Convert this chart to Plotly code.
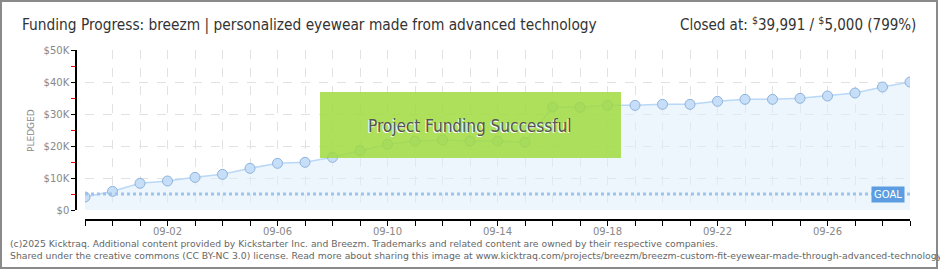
import plotly.graph_objects as go

dates = ["2025-08-30", "2025-08-31", "2025-09-01", "2025-09-02", "2025-09-03", "2025-09-04",
         "2025-09-05", "2025-09-06", "2025-09-07", "2025-09-08", "2025-09-09", "2025-09-10",
         "2025-09-11", "2025-09-12", "2025-09-13", "2025-09-14", "2025-09-15", "2025-09-16",
         "2025-09-17", "2025-09-18", "2025-09-19", "2025-09-20", "2025-09-21", "2025-09-22",
         "2025-09-23", "2025-09-24", "2025-09-25", "2025-09-26", "2025-09-27", "2025-09-28",
         "2025-09-29"]
pledged = [4060, 5830, 8330, 9060, 10200, 11140, 13020, 14580, 14900, 16460, 18540, 20520,
           21560, 21875, 21560, 21560, 21150, 32190, 32080, 32700, 32700, 33020, 33020, 33960,
           34580, 34580, 34900, 35625, 36560, 38440, 39991]
goal = 5000
goal_line = [goal] * len(dates)

y_tickvals = [0, 10000, 20000, 30000, 40000, 50000]
y_ticktext = ["$0", "$10K", "$20K", "$30K", "$40K", "$50K"]

title_text = "Funding Progress: breezm | personalized eyewear made from advanced technology"
closed_text = "Closed at: <sup>$</sup>39,991 / <sup>$</sup>5,000 (799%)"
footer1 = ("(c)2025 Kicktraq. Additional content provided by Kickstarter Inc. and Breezm. "
           "Trademarks and related content are owned by their respective companies.")
footer2 = ("Shared under the creative commons (CC BY-NC 3.0) license. Read more about sharing this image at "
           "www.kicktraq.com/projects/breezm/breezm-custom-fit-eyewear-made-through-advanced-technology")

W, H = 940, 270
ML, MR, MT, MB = 76, 30, 50, 50
PW, PH = W - ML - MR, H - MT - MB


def px(x):
    return (x - ML) / PW


def py(y):
    return (H - MB - y) / PH


fig = go.Figure()

fig.add_trace(go.Scatter(
    x=dates, y=pledged, mode="lines+markers",
    line=dict(color="#b9d8f7", width=1.5),
    marker=dict(size=10, color="#c6def7", line=dict(color="#8fb3dc", width=1)),
    fill="tozeroy", fillcolor="rgba(222,236,252,0.55)",
    hoverinfo="skip", showlegend=False))

fig.add_trace(go.Scatter(
    x=dates, y=goal_line, mode="lines",
    line=dict(color="#9dc3ee", width=3, dash="dot"),
    hoverinfo="skip", showlegend=False))

grid = dict(gridcolor="#e2e2e2", griddash="dash", gridwidth=1)

fig.update_layout(
    width=W, height=H,
    margin=dict(l=ML, r=MR, t=MT, b=MB, autoexpand=False),
    paper_bgcolor="white", plot_bgcolor="white",
    xaxis=dict(
        type="date", range=[dates[0], dates[-1]],
        domain=[px(85), 1], anchor="free", position=0, automargin=False,
        tick0="2025-09-02", dtick=4 * 86400000, tickformat="%m-%d",
        ticks="outside", ticklen=5, tickcolor="black",
        showline=True, linecolor="black", linewidth=1.5,
        tickfont=dict(family="DejaVu Sans", size=10, color="#888"),
        ticklabelstandoff=-3,
        showgrid=True, **grid,
        minor=dict(dtick=86400000, ticks="outside", ticklen=5, tickcolor="black",
                   showgrid=True, gridcolor="#e2e2e2", griddash="dash"),
        zeroline=False, fixedrange=True),
    yaxis=dict(
        range=[0, 50000], domain=[py(210), 1], anchor="free", position=0, automargin=False,
        tickvals=y_tickvals, ticktext=y_ticktext,
        ticks="outside", ticklen=4, tickcolor="black",
        showline=True, linecolor="black", linewidth=1.5,
        tickfont=dict(family="DejaVu Sans", size=10, color="#888"),
        showgrid=True, **grid,
        minor=dict(dtick=5000, ticks="outside", ticklen=4, tickcolor="red", showgrid=False),
        zeroline=False, fixedrange=True),
)

# frame around the image
fig.add_shape(type="rect", xref="paper", yref="paper",
              x0=px(1), x1=px(937), y0=py(1), y1=py(268),
              line=dict(color="#8a8a8a", width=2), fillcolor="rgba(0,0,0,0)", layer="below")

# success banner
fig.add_shape(type="rect", xref="paper", yref="paper",
              x0=px(320), x1=px(621), y0=py(92), y1=py(158),
              line=dict(width=0), fillcolor="rgba(160,218,64,0.85)", layer="above")
fig.add_annotation(xref="paper", yref="paper", x=px(470), y=py(126),
                   xanchor="center", yanchor="middle",
                   text="Project Funding Successful", showarrow=False,
                   font=dict(family="DejaVu Sans Condensed", size=17, color="#555",
                             shadow="-1px 1px 0px #ffffff"))

# goal label
fig.add_annotation(x=dates[-1], y=goal, xref="x", yref="y", text="GOAL", showarrow=False,
                   xanchor="right", yanchor="middle", xshift=-5, bgcolor="#5b9de0", borderpad=2,
                   font=dict(family="DejaVu Sans", size=10, color="white"))

# y axis title
fig.add_annotation(xref="paper", yref="paper", x=px(31), y=py(131), text="PLEDGED",
                   xanchor="center", yanchor="middle",
                   textangle=-90, showarrow=False,
                   font=dict(family="DejaVu Sans", size=9, color="#888"))

# titles
fig.add_annotation(xref="paper", yref="paper", x=px(20), y=py(25), xanchor="left", yanchor="middle",
                   text=title_text, showarrow=False,
                   font=dict(family="DejaVu Sans Condensed", size=15.3, color="#333"))
fig.add_annotation(xref="paper", yref="paper", x=px(918), y=py(24), xanchor="right", yanchor="middle",
                   text=closed_text, showarrow=False,
                   font=dict(family="DejaVu Sans Condensed", size=15, color="#333"))

# footer
fig.add_annotation(xref="paper", yref="paper", x=px(8), y=py(243), xanchor="left", yanchor="middle",
                   text=footer1, showarrow=False,
                   font=dict(family="DejaVu Sans", size=9.25, color="#666"))
fig.add_annotation(xref="paper", yref="paper", x=px(8), y=py(255), xanchor="left", yanchor="middle",
                   text=footer2, showarrow=False,
                   font=dict(family="DejaVu Sans", size=9.28, color="#666"))

fig.write_html("out.html")
